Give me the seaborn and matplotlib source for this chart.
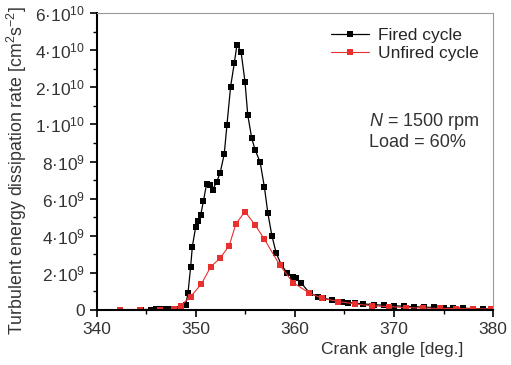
import matplotlib
matplotlib.use("Agg")
import matplotlib.pyplot as plt
import seaborn as sns
import pandas as pd
import numpy as np

# crank angle [deg] and dissipation rate [1e9 cm2 s-2]
fired_angle = [344.5, 345.5, 346.0, 346.5, 347.0, 347.5, 348.0, 348.5, 348.98, 349.22,
               349.49, 349.66, 350.0, 350.24, 350.51, 350.78, 351.1, 351.45, 351.7, 352.13,
               352.47, 352.88, 353.15, 353.52, 353.89, 354.16, 354.57, 354.97, 355.25, 355.65,
               355.99, 356.5, 356.93, 357.28, 357.68, 358.12, 358.63, 359.24, 359.82, 360.15,
               360.66, 361.5, 362.36, 362.86, 363.71, 364.72, 365.4, 366.07, 366.92, 368.0,
               369.0, 370.0, 371.0, 372.0, 373.0, 374.0, 375.0, 376.0, 377.0, 378.0,
               379.0, 380.0]
fired_rate = [0.02, 0.02, 0.03, 0.03, 0.03, 0.04, 0.04, 0.05, 0.27, 0.90,
              2.33, 3.41, 4.49, 4.81, 5.12, 5.88, 6.79, 6.74, 6.47, 6.92,
              7.40, 8.41, 9.97, 12.04, 13.30, 14.29, 13.93, 12.31, 10.51, 9.26,
              8.63, 7.96, 6.61, 5.21, 4.01, 3.06, 2.43, 1.98, 1.80, 1.71,
              1.44, 0.90, 0.72, 0.63, 0.54, 0.45, 0.39, 0.36, 0.32, 0.28,
              0.25, 0.22, 0.20, 0.17, 0.15, 0.13, 0.12, 0.10, 0.09, 0.07,
              0.06, 0.05]

unfired_angle = [342.4, 344.4, 346.4, 347.8, 348.48, 349.49, 350.58, 351.52, 352.47, 353.38,
                 354.06, 354.97, 355.99, 356.93, 358.46, 359.82, 361.4, 362.69, 364.38, 366.07,
                 367.77, 369.46, 371.2, 372.9, 374.6, 376.3, 378.0, 379.8]
unfired_rate = [0.02, 0.02, 0.02, 0.03, 0.22, 0.72, 1.40, 2.33, 2.79, 3.47,
                4.64, 5.30, 4.58, 3.81, 2.43, 1.47, 0.93, 0.63, 0.45, 0.32,
                0.22, 0.18, 0.12, 0.10, 0.08, 0.07, 0.06, 0.05]

ytick_vals = [0, 2e9, 4e9, 6e9, 8e9, 10e9, 12e9, 14e9, 16e9]
ytick_labels = ["0", "2·10$^{9}$", "4·10$^{9}$", "6·10$^{9}$", "8·10$^{9}$",
                "1·10$^{10}$", "2·10$^{10}$", "4·10$^{10}$", "6·10$^{10}$"]

fired = pd.DataFrame({"angle": fired_angle, "rate": np.array(fired_rate) * 1e9})
unfired = pd.DataFrame({"angle": unfired_angle, "rate": np.array(unfired_rate) * 1e9})

sns.set_style("ticks")
plt.rcParams["font.family"] = ["Liberation Sans", "DejaVu Sans"]
plt.rcParams["mathtext.fontset"] = "custom"
plt.rcParams["mathtext.rm"] = "Liberation Sans"
plt.rcParams["mathtext.it"] = "Liberation Sans:italic"

fig = plt.figure(figsize=(5.11, 3.65), dpi=100)
ax = fig.add_axes([0.189, 0.151, 0.776, 0.813])

sns.lineplot(data=fired, x="angle", y="rate", ax=ax, color="black", lw=0.9,
             marker="s", markersize=4.5, markeredgewidth=0, label="Fired cycle")
sns.lineplot(data=unfired, x="angle", y="rate", ax=ax, color="#e8302e", lw=0.8,
             marker="s", markersize=4.5, markeredgewidth=0, label="Unfired cycle")

ax.set_xlim(340, 380)
ax.set_ylim(0, 16e9)
ax.set_xticks([340, 350, 360, 370, 380])
ax.set_xticks([345, 355, 365, 375], minor=True)
ax.set_yticks(ytick_vals)
ax.set_yticklabels(ytick_labels)
ax.set_yticks(np.arange(1e9, 16e9, 2e9), minor=True)
ax.tick_params(which="major", direction="out", length=5, width=1.2, labelsize=12.5,
               color="black", labelcolor="#333333")
ax.tick_params(which="minor", direction="out", length=3, width=1.0, color="black")

for s in ["left", "bottom"]:
    ax.spines[s].set_color("black")
    ax.spines[s].set_linewidth(1.5)
for s in ["top", "right"]:
    ax.spines[s].set_color("#999999")
    ax.spines[s].set_linewidth(0.8)

ax.set_xlabel("Crank angle [deg.]", fontsize=12.5, color="#333333", va="center")
ax.xaxis.set_label_coords(0.745, -0.135)
ax.set_ylabel("Turbulent energy dissipation rate [cm$^{2}$s$^{-2}$]", fontsize=12.8, color="#333333")
ax.yaxis.set_label_coords(-0.17, 0.47)

leg = ax.legend(loc="upper right", frameon=False, fontsize=12.5, handlelength=2.2,
                handletextpad=0.5, borderaxespad=0.2, labelspacing=0.15,
                bbox_to_anchor=(0.99, 0.985))

ax.text(0.687, 0.603, "$N$ = 1500 rpm\nLoad = 60%", transform=ax.transAxes,
        fontsize=13, color="#333333", va="center", ha="left", linespacing=1.15)

fig.savefig("out.png", dpi=100)
